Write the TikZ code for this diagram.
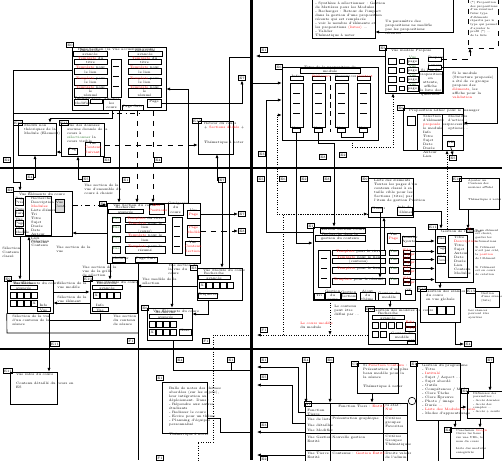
\documentclass[tikz,border=0pt]{standalone}
\usepackage{xcolor}
\usepackage{tikz}
\usetikzlibrary{arrows.meta}
\usetikzlibrary{positioning,fit}
\newcommand{\tinyfs}{\fontsize{1.9}{2.3}\selectfont}
\newcommand{\tinierfs}{\fontsize{1.6}{2.1}\selectfont}
\definecolor{vert}{rgb}{0.15,0.45,0.15}

\begin{document}
\begin{tikzpicture}[x=0.02cm,y=-0.02cm,line width=0.35pt,
          >={Latex[length=2.2pt,width=1.8pt]},
          box/.style={draw,inner sep=0pt,font=\tinyfs,align=center},
          ttl/.style={anchor=north west,xshift=0.1cm,font=\tinyfs,inner sep=0.6pt,align=left},
          tag/.style={draw,fill=white,font=\tinyfs,inner sep=0.3pt,minimum width=0.15cm,minimum height=0.09cm},
          note/.style={anchor=north west,font=\tinyfs,inner sep=0pt,align=left},
          sq/.style={draw,inner sep=0pt,minimum size=0.12cm,anchor=north west,font=\tinyfs},
          sep/.style={line width=1.6pt}]
\useasboundingbox (0,0) rectangle (502,460);

% separateurs
\draw[sep] (0,168) -- (502,168);
\draw[sep] (0,349) -- (502,349);
\draw[sep] (251.5,0) -- (251.5,460);

% ---------------- panneau 1
\node[tag] (te0) at (70,45) {E0};
\node[box,fit={(72,47) (166,110)},label={[ttl]north west:Page Section (la Vue accueil du cours)}] (e0) {};
\node[box,fit={(73,51) (107,56)}] (e0ra) {Recherche avancée};
\node[box,fit={(128,51) (162,56)}] (e0rb) {Recherche avancée};
\foreach \i/\ya/\yb/\t in {1/59/64/{\textcolor{red}{Template} du titre},2/68/74/{\textcolor{red}{Template} pour le lien},3/78/85/{\textcolor{red}{Template} pour le lien},4/88/97/{\textcolor{red}{Template} pour le\\résumé}} {
  \node[box,fit={(74,\ya) (107,\yb)}] (e0l\i) {\t};
  \node[box,fit={(128,\ya) (161,\yb)}] (e0r\i) {\t};
}
\node[box,fit={(111,59) (121,97)}] (e0mid) {};
\foreach \y in {66,76,86} \draw (113,\y) -- (119,\y);
\node[box,fit={(74,99) (88,105)}] (e0tab) {Tableau\\Modifier};
\node[box,fit={(90,99) (102,103)}] (e0tri) {Trier};
\node[box,fit={(103,99) (120,110)}] (e0aff) {Afficher\\les cours};
\node[box,fit={(122,105) (143,110)}] (e0suiv) {Page Suiv};
\node[box,fit={(147,99) (161,107)}] (e0pg) {Page};
\node[tag] (te7) at (242,78) {E7};

\node[tag] (te10) at (18,123) {E10};
\node[box,fit={(18,123) (56,155)},label={[ttl]north west:Modifs non\\théoriques de la\\Module (Element)}] (md) {};
\node[tag] (te11) at (64,123) {E11};
\node[box,fit={(61,123) (104,156)},label={[ttl]north west:Vue des données\\aucune donnée de la\\cours à\\\textcolor{vert}{sélectionner} la\\cours visible}] (vd) {};
\node[box,fit={(68,148) (77,154)}] (vdpg) {Pag};
\node[box,fit={(85,142) (100,156)}] (vdvue) {Vue\\\textcolor{red}{Contenu}\\\textcolor{red}{Suivant}};
\node[tag] (te12) at (197,121) {E12};
\node[box,fit={(198,121) (233,154)},label={[ttl]north west:Retour du cours\\+ \textcolor{red}{Sections dédiés} +\\[6pt]Thématique à noter}] (rc) {};
\node[tag] (te2) at (7,160) {E2};
\node[tag] (te3) at (107,160) {E3};
\node[tag] (te4) at (158,160) {E4};

% ---------------- panneau 2
\node[box,fit={(312,-5) (375,38)}] (tb) {};
\node[note] (tbtxt) at (315,2) {- Synthèse à sélectionner : Gestion\\ de Matières pour les Modules\\- Recharger : Retour de l'impact\\ dans la gestion d'une proposition\\ récente qui est remplacée\\- voir le nombre d'éléments et\\ les propositions \textcolor{red}{(listes)} ...\\- Valider\\Thématique à noter};
\node[note] (untxt) at (385,20) {Un paramètre des\\propositions ne modifie\\pas les propositions\\récentes};
\coordinate (p2top) at (453,-3);
\node[box,dashed,fit={(468,-5) (498,48)}] (db) {};
\node[note,font=\tinierfs] (dbtxt) at (470,1) {(*) Proposition\\des propositions\\d'un éventuel\\futur type\\d'éléments\\répartis par le\\type qui permet\\d'ajouter le\\profil (*) ...\\de la liste};

\node[tag] (t2a) at (264,50) {E1};
\coordinate (p2a) at (256,56);
\node[tag] (tvmp) at (383,48) {E5};
\node[box,fit={(385,48) (443,93)},label={[ttl]north west:Vue modèle Propose}] (vmp) {};
\foreach \i/\y in {1/58,2/67,3/76,4/85} {
  \node[box,fit={(388,\y) (396,{\y+6})}] (vmpa\i) {};
  \node[box,fit={(399,{\y+1}) (404,{\y+5})}] (vmpb\i) {};
  \node[box,fit={(407,\y) (418,{\y+6})}] (vmpc\i) {\textcolor{vert}{Vue}\\page};
}
\node[box,fit={(428,57) (441,61)}] (prop) {Propose};
\node[box,fit={(428,65) (441,69)}] (lanc) {Lancer};
\node[box,fit={(419,73) (442,90)}] (vmptxt) {Si Pas de\\proposition en\\attente, affiche\\la liste des\\questions};
\node[note] (smtxt) at (452,72) {Si le module\\(Structure proposée)\\a été de ce groupe\\propose des\\\textcolor{red}{éléments}, les\\affiche pour la\\\textcolor{red}{validation}};

\node[tag] (ttp) at (279,67) {E6};
\node[box,fit={(282,67) (378,140)}] (tp) {};
\node[box,fit={(300,68) (360,73)}] (tpt) {Titre de la proposition de module};
\foreach \i/\x/\t in {1/290/Infos,2/312/\textcolor{red}{Référence},3/335/Ressources,4/357/\textcolor{red}{Contact}} {
  \node[box,fit={(\x,76) ({\x+13},80)}] (tph\i) {\t};
  \node[box,fit={(\x,83) ({\x+13},127)}] (tpc\i) {};
  \foreach \y in {93,103,113} \draw ({\x+3},\y) -- ({\x+10},\y);
  \node[box,fit={({\x+2},128) ({\x+10},132)}] (tpk\i) {Voir};
}
\draw[densely dashed] (330,76) -- (330,132);

\node[tag] (tpa) at (401,108) {E9};
\node[box,fit={(403,108) (463,150)},label={[ttl]north west:Proposition adhoc pour le manager}] (pa) {};
\node[box,fit={(407,116) (415,125)}] (pasq) {};
\node[box,fit={(417,114) (442,150)},label={[ttl,xshift=0pt]north west:Sélection\\d'éléments\\\textcolor{red}{proposés} par\\le module\\Info\\Titre\\Sujet\\Date\\Durée\\Auteur\\Lieu}] (pal) {};
\node[box,fit={(442,114) (463,135)},label={[ttl,xshift=0pt]north west:Modalités\\d'action :\\processus,\\options ...}] (par) {};
\node[box,fit={(447,141) (454,146)}] (paok) {OK};
\node[tag] (te5) at (453,158) {E5};
\node[tag] (t2b) at (262,154) {E3};
\node[tag] (t2c) at (323,157) {E8};
\node[tag] (t2d) at (343,155) {E2};

% ---------------- panneau 3
\node[tag] (t3a) at (30,177) {E4};
\node[tag] (t3b) at (86,179) {E5};
\node[tag] (t3c) at (126,180) {E1};
\node[tag] (t3d) at (222,180) {E7};

\node[tag] (tve1) at (10,190) {E2};
\node[box,fit={(13,191) (72,236)},label={[ttl]north west:Vue Éléments du cours}] (ve1) {};
\node[box,fit={(15,198) (23,205)}] (ve1b1) {Pag\\Préc};
\node[box,fit={(15,210) (23,216)}] (ve1b2) {Page\\Suiv};
\node[box,fit={(15,220) (23,226)}] (ve1b3) {Vue\\Page};
\node[box,fit={(15,228) (23,234)}] (ve1b4) {Vue\\Modèle};
\node[box,fit={(25,196) (51,235)},label={[ttl,xshift=0pt]north west:Recherche\\Description\\\textcolor{red}{Modules}\\Liste éléments\\Tri\\Titre\\Sujet\\Durée\\Date\\Auteur\\Lieu\\Contenu}] (ve1l) {};
\node[box,fill=gray!30,fit={(55,199) (64,212)}] (ve1g) {Vue\\Cont.};

\node[tag] (tvs) at (103,204) {E1};
\node[box,fit={(107,203) (200,263)},label={[ttl]north west:Vue Section du cours}] (vs) {};
\node[box,fit={(108,209) (143,213)}] (vsra) {Recherche avancée};
\node[box,fit={(149,204) (164,214)}] (vspos) {\textcolor{red}{Mes}\\\textcolor{red}{Positions}};
\node[box,fit={(168,203) (183,215)}] (vscat) {Catégories\\du cours};
\foreach \i/\ya/\yb/\t in {1/217/222/{\textcolor{red}{Template} du titre},2/225/232/{\textcolor{red}{Template} pour le lien\\(cours)},3/236/242/{\textcolor{red}{Template} pour le lien},4/246/253/{\textcolor{red}{Template} pour le résumé}} {
  \node[box,fit={(112,\ya) (120,\yb)}] (vsg\i) {\textcolor{vert}{Vue}};
  \node[box,fit={(125,\ya) (165,\yb)}] (vsr\i) {\t};
}
\node[box,fit={(172,217) (182,253)}] (vsmid) {};
\foreach \y in {226,236,246} \draw (174,\y) -- (180,\y);
\node[box,fit={(187,210) (200,218)}] (vsvp) {Vue\\\textcolor{red}{Page}};
\node[box,fit={(187,225) (200,237)}] (vspm) {\textcolor{red}{Page}\\\textcolor{red}{Modèle}};
\node[box,fit={(185,241) (200,255)}] (vsvc) {Vue\\\textcolor{red}{Contenu}\\\textcolor{red}{Section}};
\node[box,fit={(112,257) (125,262)}] (vsmod) {Modifier};
\node[box,fit={(135,257) (157,262)}] (vsps) {Page Suiv};
\node[tag] (t3e) at (242,214) {E7};
\node[tag] (t3f) at (242,231) {E8};

\node[tag] (tvmc) at (194,268) {E3};
\node[box,fit={(197,268) (242,300)},label={[ttl]north west:Vue Modèle du cours}] (vmc) {};
\node[box,fit={(198,275) (230,279)}] (vmcra) {Recherche avancée};
\node[sq] (vmcs0) at (199,282) {X};
\foreach \i/\x in {1/206,2/213,3/220,4/227} \node[sq] (vmcs\i) at (\x,282) {};
\node[box,fit={(198,293) (217,298)}] (vmcet) {Étiquettes};

\node[tag] (tve2) at (8,279) {E9};
\node[box,fit={(7,280) (53,313)},label={[ttl]north west:Vue Éléments du cours}] (ve2) {};
\node[box,fit={(10,285) (37,289)}] (ve2ra) {Recherche avancée};
\foreach \i/\x in {1/10,2/17,3/24,4/31} {
  \node[sq] (ve2a\i) at (\x,292) {};
}
\foreach \i/\x in {1/10,2/17,3/24} {
  \node[sq] (ve2b\i) at (\x,300) {};
}
\node[sq] (ve2b4) at (31,300) {X};
\node[box,fit={(37,307) (50,311)}] (ve2iv) {Info Vue};

\node[tag] (tvmm) at (88,279) {E10};
\node[box,fit={(90,280) (137,313)},label={[ttl]north west:Vue Modèle du cours}] (vmm) {};
\node[box,fit={(92,285) (122,289)}] (vmmra) {Recherche avancée};
\node[sq] (vmms0) at (93,292) {X};
\foreach \i/\x in {1/100,2/107,3/114} \node[sq] (vmms\i) at (\x,292) {};
\node[box,fit={(92,307) (108,311)}] (vmmiv) {Info Vue};

\node[tag] (tvel) at (145,308) {E6};
\node[box,fit={(147,308) (192,340)},label={[ttl]north west:Vue Éléments du cours}] (vel) {};
\node[box,fit={(149,314) (182,318)}] (velra) {Recherche avancée};
\foreach \i/\x in {1/149,2/156,3/163,4/170} \node[sq] (vela\i) at (\x,321) {};
\node[sq] (velb0) at (149,329) {X};
\foreach \i/\x in {1/156,2/163,3/170} \node[sq] (velb\i) at (\x,329) {};
\node[box,fit={(179,329) (191,335)}] (velnx) {Next};
\node[tag] (t3g) at (131,341) {F1};
\node[tag] (t3h) at (206,341) {F1};
\node[tag] (t3i) at (55,344) {E11};

\node[note] (n3a) at (84,184) {Vue section de la\\vue d'ensemble du\\cours à choisir};
\node[note] (n3b) at (56,246) {Vue section de la\\vue};
\node[note] (n3c) at (82,266) {Vue section de la\\vue de la grille\\de sélection};
\node[note] (n3d) at (168,264) {Vue section de\\la vue du\\cours};
\node[note] (n3e) at (31,240) {Sélection\\Contenu};
\node[note] (n3f) at (2,247) {Sélection\\Contenu\\classé};
\node[note] (n3g) at (57,282) {Sélection de la\\vue modèle};
\node[note] (n3h) at (57,296) {Sélection de la\\vue élément};
\node[note] (n3i) at (142,278) {Vue modèle de la\\sélection};
\node[note] (n3j) at (12,315) {Sélection de la vue\\d'un contenu de la\\séance};
\node[note] (n3k) at (113,315) {Vue section\\du contenu\\de séance};

% ---------------- panneau 4
\node[tag] (t4a) at (261,179) {E5};
\node[tag] (t4b) at (283,179) {E6};
\node[tag] (t4c) at (304,179) {E2};
\node[tag] (t4d) at (327,179) {E8};

\node[tag] (tled) at (365,179) {E9};
\node[box,fit={(368,178) (413,217)},label={[ttl]north west:Liste des éléments\\Toutes les pages d'un\\contenu classé à sa\\taille cible pour les\\Sections (titre) par\\l'item de gestion Position}] (led) {};
\node[box,fit={(371,207) (382,212)}] (ledcl) {Classer};
\node[box,fit={(397,207) (412,215)}] (ledie) {Info de\\l'élément};

\node[tag] (tad) at (457,179) {E10};
\node[box,fit={(459,178) (499,209)},label={[ttl,xshift=0.06cm,font=\tinierfs]north west:Ajouter un\\Contenu des\\sessions affiché\\[5pt]Thématique à noter}] (ad) {};

\node[tag] (tgs) at (311,226) {E1};
\node[box,fit={(313,227) (415,300)}] (gs) {};
\node[box,fit={(320,228) (365,233)}] (gst) {Gestion Section Cours};
\node[box,fit={(315,235) (365,241)}] (gsrech) {Recherche dans la gestion du contenu};
\node[box,fit={(318,250) (330,287)}] (gsmid) {};
\foreach \y in {258,268,278} \draw (321,\y) -- (327,\y);
\foreach \i/\ya/\yb/\t in {1/250/255/{\textcolor{red}{Template} pour le titre},2/258/263/{\textcolor{red}{Template} pour le lien (contenu)},3/267/273/{\textcolor{red}{Template} pour le lien},4/278/284/{\textcolor{red}{Template} pour le résumé}} {
  \node[box,fit={(332,\ya) (385,\yb)}] (gsr\i) {\t};
  \node[box,fit={(389,\ya) (398,\yb)}] (gsg\i) {\textcolor{vert}{Vue}};
  \node[box,fit={(403,\ya) (410,{\ya+3})}] (gse\i) {\textcolor{red}{Edit}};
  \node[box,fit={(403,{\ya+4}) (410,{\ya+7})}] (gss\i) {\textcolor{red}{Suppr}};
}
\node[box,fit={(387,233) (400,243)}] (gsvp) {Vue\\\textcolor{red}{Page}};
\node[box,fit={(402,236) (415,246)}] (gsan) {Annuler\\Ajouter};
\node[box,fit={(314,293) (324,299)}] (gsb1) {Tri};
\node[box,fit={(325,293) (340,299)}] (gsb2) {Gestion\\du cours};
\node[box,fit={(341,293) (356,299)}] (gsb3) {Gestion\\Sections};
\node[box,fit={(360,293) (375,300)}] (gsb4) {Ajout du\\thème};
\node[box,fit={(378,293) (400,300)}] (gsb5) {Gestion du\\modèle};
\node[box,fit={(405,290) (411,294)}] (gsok) {OK};

\node[tag] (tge) at (433,227) {E11};
\node[box,fit={(435,229) (473,282)},label={[ttl]north west:Gestion de l'élément}] (ge) {};
\node[box,fit={(466,228) (473,232)}] (gex) {\textcolor{red}{X}};
\node[box,fit={(437,236) (445,243)}] (geb1) {Vue};
\node[box,fit={(437,246) (445,253)}] (geb2) {Page};
\node[box,fit={(437,256) (445,263)}] (geb3) {Vue\\Cont.};
\node[box,fit={(448,235) (467,277)},label={[ttl,xshift=0pt]north west:Titre\\\textcolor{red}{Description}\\Titre\\Sujet\\Auteur\\Date\\Durée\\Lieu\\Contenu\\Modules}] (gel) {};
\node[note,font=\tinierfs] (n4a) at (475,229) {Si un élément\\est choisi,\\garder les\\informations};
\node[note,font=\tinierfs] (n4b) at (475,246) {Si l'élément\\n'est pas créé,\\la \textcolor{red}{position}\\de l'élément};
\node[note,font=\tinierfs] (n4c) at (475,266) {Si l'élément\\est en cours\\de création};

\node[tag] (tgse) at (422,289) {E12};
\node[box,fit={(420,289) (460,322)},label={[ttl]north west:Gestion des séances\\du cours\\en vue globale}] (gse) {};
\foreach \i/\x in {1/428,2/437,3/446} \node[sq,minimum size=0.16cm] (gseq\i) at (\x,306) {};
\node[tag] (tgr) at (471,291) {E13};
\node[box,fit={(475,291) (499,307)},label={[ttl,xshift=0pt,font=\tinierfs]north west:Gestion\\d'une séance\\(liste)}] (gr) {};
\node[note,font=\tinierfs] (n4d) at (468,309) {Les séances\\peuvent être\\ajoutées};

\node[tag] (tgm) at (370,309) {E14};
\node[box,fit={(368,308) (417,344)},label={[ttl]north west:Gestion des modèles du cours}] (gm) {};
\node[box,fit={(372,315) (404,319)}] (gmra) {Recherche avancée};
\foreach \i/\x in {1/372,2/380,3/388,4/396} \node[sq] (gma\i) at (\x,322) {};
\foreach \i/\x in {1/372,2/380} \node[sq] (gmb\i) at (\x,331) {};
\node[box,fit={(405,322) (415,326)}] (gmed) {\textcolor{red}{Edit}};
\node[box,fit={(405,327) (415,331)}] (gmsu) {\textcolor{red}{Suppr}};
\node[box,fit={(389,333) (415,340)}] (gmmd) {Gestion du\\modèle};
\node[box,fit={(407,341) (415,344)}] (gmok) {OK};
\node[tag] (t4e) at (264,330) {F1};
\node[tag] (t4f) at (468,344) {E4};
\node[note] (n4e) at (334,305) {Le contenu\\peut être\\défini par ...};
\node[note] (n4f) at (300,322) {\textcolor{red}{Le cours modèle}\\du module};
\coordinate (c4a) at (257,335);

% ---------------- panneau 5
\node[tag] (tvi) at (8,371) {E11};
\node[box,fit={(10,372) (57,404)},label={[ttl]north west:Vue infos du cours\\[3pt]Contenu détaillé du cours en\\ES}] (vi) {};
\node[tag] (tbu) at (160,378) {E1};
\node[box,fit={(162,382) (207,433)},label={[ttl,xshift=0.02cm,yshift=-0.08cm]north west:Bulle de notes des thèmes\\abordées (sur les sujets),\\leur intégration au\\déploiement. Dans :\\- Répondre aux autres\\ étudiants\\- Redisser le cours\\- Ecrire pour un thème\\- Planning d'équipes\\ personnalisé\\[3pt]Thématique à noter}] (bu) {};
\node[tag] (t5a) at (180,360) {E4};
\node[tag] (t5b) at (231,360) {E1};
\node[tag] (t5c) at (160,458) {F1};
\coordinate (c5a) at (251,432);
\coordinate (c5b) at (251,370);
\coordinate (c3a) at (251,335);
\coordinate (c3b) at (198,462);

% ---------------- panneau 6
\node[tag] (t6a) at (264,360) {E1};
\node[tag] (t6b) at (306,360) {E4};
\node[tag] (t6c) at (330,360) {E6};
\node[tag] (t6d) at (490,360) {E7};
\node[tag] (t6e) at (264,377) {E5};
\node[tag] (t6f) at (264,425) {E3};
\node[tag] (t6g) at (264,459) {E2};
\coordinate (c6a) at (257,367);
\coordinate (c6b) at (257,385);
\coordinate (c6c) at (257,432);
\coordinate (c6d) at (257,455);
\coordinate (c6e) at (438,462);

\node[tag] (tfx) at (355,364) {C1};
\node[box,fit={(357,363) (398,393)},label={[ttl]north west:Si \textcolor{red}{Fonction Contenu} :\\Présentation d'un plus\\beau modèle pour la\\la séance\\[3pt]Thématique à noter}] (fx) {};
\node[tag] (tgp) at (414,364) {E1};
\node[box,fit={(416,363) (460,420)},label={[ttl]north west:Gestion du programme\\- Titre\\- \textcolor{red}{Intitulé}\\- Sujet / Aspect ...\\- Sujet abordé\\- Outils\\- Compétences / Mode\\- Clore Tâche\\- Clore Épreuve\\- Photo / image\\- Durée \textcolor{red}{...}\\- \textcolor{red}{Liste des Modules à faire}\\- Modes d'apprentissage}] (gp) {};
\node[tag] (tgr6) at (465,391) {E2};
\node[box,fit={(467,391) (505,418)},label={[ttl,font=\tinierfs]north west:Définissez des\\paramètres :\\- Accès données\\- Accès des\\ comptes ...\\- Accès + seuils}] (gr6) {};
\node[tag] (tcg) at (448,430) {E4};
\node[box,fit={(450,428) (483,458)},label={[ttl,font=\tinierfs]north west:Conclusion \textcolor{red}{Google}\\Ouvre les liens\\sur une URL, le\\nom du cours\\[2pt]Liste des modules\\enregistrés}] (cg) {};

\node[tag] (ttf) at (308,404) {A1};
\node[box,fit={(305,403) (407,470)}] (tf) {};
\draw (330,403) -- (330,470);
\draw (383,403) -- (383,470);
\draw (305,415) -- (407,415);
\draw (305,433) -- (407,433);
\draw (305,450) -- (407,450);
\node[draw,circle,inner sep=0pt,minimum size=0.15cm] (ci) at (412,401) {};
\node[note] (tfh) at (338,405) {Fonction Tiers : \textcolor{red}{Entité}};
\node[note] (tfs) at (385,404) {Si état :\\\textcolor{red}{Nul}};
\node[note] (tfl1) at (307,409) {Fonction\\Tierce};
\node[note] (tfl2) at (307,418) {Vue de liste};
\node[note] (tfl3) at (307,424) {Vue détaillée};
\node[note] (tfl4) at (307,429) {Vue Modifier};
\node[note] (tfl5) at (307,436) {Vue Gestion\\Entité};
\node[note] (tfl6) at (307,452) {Vue Tierce\\Entité};
\node[note] (tfm1) at (332,417) {Présentation graphique};
\node[note] (tfm2) at (332,436) {Nouvelle gestion};
\node[note] (tfm3) at (332,452) {Contenus : \textcolor{red}{Gestion Entité}};
\node[note] (tfr1) at (385,417) {Critères\\groupes\\Favorites};
\node[note] (tfr2) at (385,435) {Critères\\Groupes\\Thématiques};
\node[note] (tfr3) at (385,452) {Droits valeur\\de l'admin.};

% ---------------- liaisons
\draw[->] (e0.west |- 0,70) -| (13,182) -| (ve1.north -| 20,0);
\coordinate (c1a) at (13,113);
\draw (c1a) -- (104,113);
\draw[dash dot] (104,113) -- (140,113);
\draw[->] (e0.south -| 112,0) |- (50,118) -- (md.north -| 50,0);
\draw[->] (e0.south -| 119,0) -- (vs.north -| 119,0);
\draw[dashed,->] (e0.south -| 137,0) -- (vs.north -| 137,0);
\draw[dashed,->] (e0.south -| 153,0) -- (vs.north -| 153,0);
\draw[->] (vs.north -| 188,0) -- (188,89) -- (e0.east |- 0,89);
\draw[->] (e0pg.east) -| (te7.south);
\draw[dashed,->] (vd.east |- 0,145) -- (rc.west |- 0,145);
\draw[->] (vd.west |- 0,152) -- (md.east |- 0,152);
\draw[->] (t3a.east) -| (md.south -| 35,0);
\draw[->] (t3b.west) -| (vd.south -| 78,0);
\draw[->] (t3d.west) -| (rc.south -| 217,0);

\draw[->] (p2top) -- (453,32) -- (tb.east |- 0,32);
\draw[->] (vmp.west |- 0,56) -- (p2a);
\draw[dashed,->] (prop.east) -- (470,59) -- (db.south -| 470,0);
\draw[->] (lanc.east) -- (497,67) -- (497,123) -- (pa.east |- 0,123);
\draw[->] (vmc.north -| 229,0) -- (229,57) -- (251,57) -- (251,83) -- (tp.west |- 0,83);
\draw[->] (gs.west |- 0,232) -| (266,100) -- (tp.west |- 0,100);
\draw[densely dotted,->] (led.west |- 0,214) -| (277,115) -- (tp.west |- 0,115);
\draw (tpk3.south) |- (tpk4.south |- 0,137) -- (tpk4.south);
\draw[->] (tpk1.south) -- (296,243) -- (gs.west |- 0,243);
\draw[->] (tpk2.south) |- (334,143) -- (gs.north -| 334,0);
\draw[densely dotted,->] (tp.south -| 352,0) |- (393,147) -- (vmp.south -| 393,0);
\draw[densely dotted,->] (ge.north -| 447,0) -- (pa.south -| 447,0);
\draw[->] (paok.south) -- (te5.north);

\draw[dash dot,->] (ve1.east |- 0,205) -- (vs.west |- 0,205);
\draw[->] (vs.west |- 0,233) -- (ve1.east |- 0,233);
\draw[->] (vsvp.east) -- (t3e.west);
\draw[dashed,->] (vspm.east) -- (t3f.west);
\draw[->] (ve1.south -| 20,0) -- (ve2.north -| 20,0);
\draw[<-] (ve1.south -| 29,0) -- (ve2.north -| 29,0);
\draw[->] (vs.south -| 110,0) -- (vmm.north -| 110,0);
\draw (vs.south -| 138,0) -- (138,460);
\draw[->] (vs.south -| 172,0) -- (vel.north -| 172,0);
\draw[->] (t3d.south) -- (vmc.north -| 222,0);
\draw[->] (vmc.west |- 0,286) -- (vmm.east |- 0,286);
\draw[->] (ve2.east |- 0,292) -- (vmm.west |- 0,292);
\draw[->] (vmm.west |- 0,303) -- (ve2.east |- 0,303);
\draw[->] (ve2.south -| 49,0) -- (vi.north -| 49,0);
\draw (vmm.south -| 100,0) -- (100,320) -- (49,320);
\draw (ve2.south west) -- (7,333) -- (138,333);
\draw[->] (vmc.south -| 208,0) |- (vel.east |- 0,314);
\draw (vel.south -| 173,0) -- (173,370) -- (c5b);
\draw (t5b.south) -- (231,370);
\draw[densely dotted] (c3a) -- (213,335) -- (213,442) -- (198,442) -- (c3b);
\draw (bu.east |- 0,418) -- (220,418) -- (220,432) -- (c5a);

\draw[->] (ledcl.south -| 380,0) -- (gsr4.north -| 380,0);
\draw[<-] (led.south -| 384,0) -- (gsr1.north -| 384,0);
\draw[->] (ledie.east) -- (441,211) -- (ge.north -| 441,0);
\draw[->] (ad.south -| 468,0) -- (ge.north -| 468,0);
\draw[->] (gsan.east) -- (ge.west |- gsan.east);
\foreach \i in {1,...,4} \draw[->] (gse\i.east) -- (ge.west |- gse\i.east);
\draw[->] (gs.south -| 390,0) -- (gm.north -| 390,0);
\draw[->] (ge.south -| 440,0) -- (gse.north -| 440,0);
\draw[->] (gse.south -| 455,0) |- (t4f.west);
\draw[densely dotted,->] (gs.south -| 330,0) -- (330,335);
\draw[densely dotted,->] (gm.west |- 0,335) -- (283,335) -- (283,214) -- (led.west |- 0,214);
\draw[densely dotted,->] (283,335) -- (c4a);

\draw[->] (tf.west |- 0,412) -- (298,412) |- (c6a);
\draw[->] (tf.west |- 0,423) -- (292,423) |- (c6b);
\draw[->] (tf.west |- 0,432) -- (c6c);
\draw[->] (tf.west |- 0,455) -- (c6d);
\draw[->] (t6b.south) -- (tf.north -| t6b.south);
\draw[->] (t6c.south) -- (tf.north -| t6c.south);
\draw[->] (fx.south -| 372,0) -- (tf.north -| 372,0);
\draw[->] (gp.east |- 0,407) -- (gr6.west |- 0,407);
\draw (gp.south -| 438,0) -- (c6e);
\draw[->] (gp.south -| 455,0) -- (cg.north -| 455,0);
\draw[->] (gr6.south -| 480,0) -- (cg.north -| 480,0);
\draw[->] (t6d.south) -- (gr6.north -| t6d.south);
\end{tikzpicture}
\end{document}
